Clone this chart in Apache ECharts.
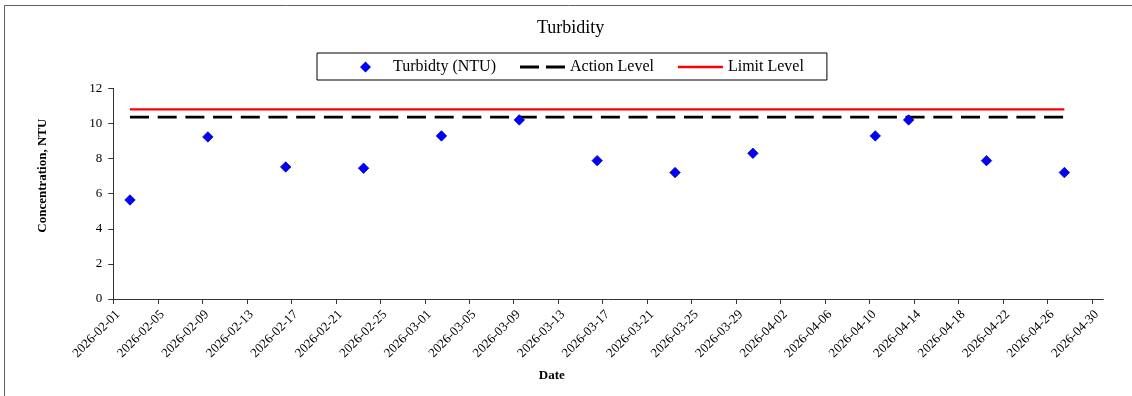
<!DOCTYPE html>
<html>
<head>
<meta charset="utf-8">
<script src="https://cdn.jsdelivr.net/npm/echarts@6/dist/echarts.min.js"></script>
<style>
html,body{margin:0;padding:0;background:#fff;}
#chart{width:1132px;height:396px;}
</style>
</head>
<body>
<div id="chart"></div>
<script>
// ---- data ----
const chartTitle = 'Turbidity';
const seriesNames = ['Turbidty (NTU)', 'Action Level', 'Limit Level'];
const sampleDates = ['2026-02-02','2026-02-09','2026-02-16','2026-02-23','2026-03-02','2026-03-09','2026-03-16','2026-03-23','2026-03-30','2026-04-10','2026-04-13','2026-04-20','2026-04-27'];
const turbidityValues = [5.64, 9.23, 7.52, 7.45, 9.29, 10.2, 7.88, 7.2, 8.3, 9.29, 10.2, 7.88, 7.2];
const actionLevel = 10.36;
const limitLevel = 10.8;
const axisStartDate = '2026-02-01';
const axisEndDate = '2026-05-01';
const tickStepDays = 4;
const yTicks = [0, 2, 4, 6, 8, 10, 12];

// ---- helpers ----
const DAY = 86400000;
const t0 = Date.parse(axisStartDate + 'T00:00:00Z');
function dayOffset(d) { return (Date.parse(d + 'T00:00:00Z') - t0) / DAY; }
function dateLabel(v) {
  const dt = new Date(t0 + v * DAY);
  return dt.toISOString().slice(0, 10);
}
const xMax = dayOffset(axisEndDate);
const xTickValues = [];
for (let v = 0; v < xMax; v += tickStepDays) xTickValues.push(v);

// Excel date axis: each day's point sits in the middle of its day
const scatterData = sampleDates.map((d, i) => [dayOffset(d) + 0.5, turbidityValues[i]]);
const firstX = dayOffset(sampleDates[0]) + 0.5;
const lastX = dayOffset(sampleDates[sampleDates.length - 1]) + 0.5;
const actionData = [[firstX, actionLevel], [lastX, actionLevel]];
const limitData = [[firstX, limitLevel], [lastX, limitLevel]];

// legend icons drawn inside a 45x14 box (tiny corner specks fix the box size)
const BOX = 'M0,0h0.01v0.01h-0.01zM45,14h-0.01v-0.01h0.01z';
const diamondIcon = 'path://' + BOX + 'M22.5,1.5L28,7L22.5,12.5L17,7Z';
const dashIcon = 'path://' + BOX + 'M0,5.5h19v3h-19zM26,5.5h19v3h-19z';
const solidIcon = 'path://' + BOX + 'M0,5.75h45v2.5h-45z';

const FONT = "'Times New Roman', 'Liberation Serif', serif";
const chart = echarts.init(document.getElementById('chart'));
chart.setOption({
  animation: false,
  backgroundColor: '#fff',
  graphic: [{
    type: 'rect', silent: true, z: -10,
    shape: { x: 4.5, y: 5.5, width: 1200, height: 500 },
    style: { fill: 'none', stroke: '#606060', lineWidth: 1 }
  }],
  title: {
    text: chartTitle,
    left: 537, top: 19,
    padding: 0,
    textStyle: { fontFamily: FONT, fontSize: 18, fontWeight: 'normal', color: '#000' }
  },
  legend: {
    left: 317, top: 53,
    padding: [6, 23, 5, 26],
    borderColor: '#000', borderWidth: 1,
    itemWidth: 45, itemHeight: 14, itemGap: 24,
    itemStyle: { borderWidth: 0 },
    textStyle: { fontFamily: FONT, fontSize: 16, color: '#000' },
    data: [
      { name: seriesNames[0], icon: diamondIcon, itemStyle: { color: '#0000FF', borderWidth: 0 } },
      { name: seriesNames[1], icon: dashIcon, itemStyle: { color: '#000', borderWidth: 0 } },
      { name: seriesNames[2], icon: solidIcon, itemStyle: { color: '#FF0000', borderWidth: 0 } }
    ]
  },
  grid: { left: 113.3, right: 28.7, top: 88.3, bottom: 97, containLabel: false },
  xAxis: {
    type: 'value',
    min: 0, max: xMax,
    name: 'Date',
    nameLocation: 'middle',
    nameGap: 70,
    nameTextStyle: { fontFamily: FONT, fontSize: 13, fontWeight: 'bold', color: '#000', padding: [0, 113, 0, 0] },
    splitLine: { show: false },
    axisLine: { onZero: false, lineStyle: { color: '#333', width: 1 } },
    axisTick: { show: true, length: 5, customValues: xTickValues, lineStyle: { color: '#333' } },
    axisLabel: {
      customValues: xTickValues,
      rotate: 45, margin: 9,
      verticalAlign: 'top',
      fontFamily: FONT, fontSize: 13, color: '#000',
      formatter: v => dateLabel(v)
    }
  },
  yAxis: {
    type: 'value',
    min: yTicks[0], max: yTicks[yTicks.length - 1], interval: yTicks[1] - yTicks[0],
    name: 'Concentration, NTU',
    nameLocation: 'middle',
    nameGap: 64,
    nameTextStyle: { fontFamily: FONT, fontSize: 13, fontWeight: 'bold', color: '#000', padding: [0, 0, 0, 36] },
    splitLine: { show: false },
    axisLine: { show: true, lineStyle: { color: '#333', width: 1 } },
    axisTick: { show: true, length: 5, lineStyle: { color: '#333' } },
    axisLabel: { margin: 11, fontFamily: FONT, fontSize: 13, color: '#000' }
  },
  series: [
    {
      name: seriesNames[0], type: 'scatter',
      symbol: 'diamond', symbolSize: 10.5,
      itemStyle: { color: '#0000FF', opacity: 1, borderColor: '#00007A', borderWidth: 0.7 },
      data: scatterData, z: 5
    },
    {
      name: seriesNames[1], type: 'line',
      symbol: 'none', showSymbol: false,
      lineStyle: { color: '#000', width: 2.6, type: [19, 8.7], cap: 'butt' },
      itemStyle: { color: '#000' },
      data: actionData, z: 3
    },
    {
      name: seriesNames[2], type: 'line',
      symbol: 'none', showSymbol: false,
      lineStyle: { color: '#FF0000', width: 2.4 },
      itemStyle: { color: '#FF0000' },
      data: limitData, z: 4
    }
  ]
});
</script>
</body>
</html>
